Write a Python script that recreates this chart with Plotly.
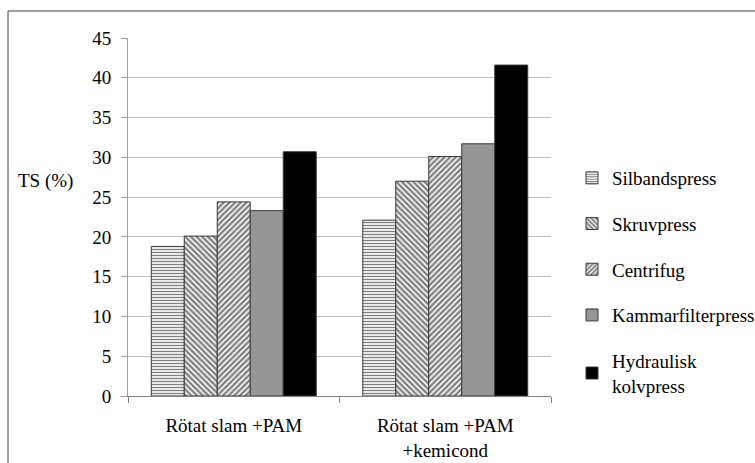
import plotly.graph_objects as go

categories = ["Rötat slam +PAM", "Rötat slam +PAM<br>+kemicond"]
series_names = ["Silbandspress", "Skruvpress", "Centrifug", "Kammarfilterpress", "Hydraulisk<br>kolvpress"]
silbandspress = [18.8, 22.1]
skruvpress = [20.1, 27.0]
centrifug = [24.4, 30.1]
kammarfilterpress = [23.3, 31.7]
hydraulisk = [30.7, 41.6]
y_ticks = [0, 5, 10, 15, 20, 25, 30, 35, 40, 45]

values = [silbandspress, skruvpress, centrifug, kammarfilterpress, hydraulisk]
styles = [
    dict(color="white", pattern=dict(shape="-", fgcolor="#000000", bgcolor="white", size=3, solidity=0.45)),
    dict(color="white", pattern=dict(shape="\\", fgcolor="#000000", bgcolor="white", size=4, solidity=0.6)),
    dict(color="white", pattern=dict(shape="/", fgcolor="#000000", bgcolor="white", size=4, solidity=0.6)),
    dict(color="#969696"),
    dict(color="#000000"),
]

FONT = "Liberation Serif, Times New Roman, DejaVu Serif, serif"
FS = 19
fig = go.Figure()
for i, (name, vals, st) in enumerate(zip(series_names, values, styles)):
    marker = dict(line=dict(color="#3a3a3a", width=1))
    marker["color"] = st["color"]
    if "pattern" in st:
        marker["pattern"] = st["pattern"]
    fig.add_trace(go.Bar(x=categories, y=vals, name=name, marker=marker, legendgroup=f"g{i}"))

W, H = 755, 463
L, R, T, B = 128, 204, 38, 67
pw, ph = W - L - R, H - T - B

fig.update_layout(
    width=W, height=H,
    margin=dict(l=L, r=R, t=T, b=B, autoexpand=False),
    paper_bgcolor="white", plot_bgcolor="white",
    barmode="group", bargap=0.22, bargroupgap=0,
    font=dict(family=FONT, size=FS, color="#000000"),
    showlegend=True,
    legend=dict(xref="container", yref="container", x=572 / W, y=1 - 159 / H,
                xanchor="left", yanchor="top", maxheight=420,
                traceorder="grouped", tracegroupgap=18,
                font=dict(family=FONT, size=FS), itemwidth=30,
                bgcolor="rgba(0,0,0,0)"),
    xaxis=dict(showgrid=False, showline=True, linecolor="#808080", linewidth=1,
               ticks="outside", tickson="boundaries", ticklen=6, tickcolor="#808080",
               ticklabelstandoff=12, automargin=False,
               tickfont=dict(family=FONT, size=FS)),
    yaxis=dict(range=[0, 45], tickvals=y_ticks, showgrid=True, gridcolor="#c0c0c0", gridwidth=1,
               showline=True, linecolor="#a0a0a0", linewidth=1, zeroline=False,
               ticks="outside", ticklen=6, tickcolor="#a0a0a0", ticklabelstandoff=6,
               automargin=False,
               tickfont=dict(family=FONT, size=FS)),
    annotations=[dict(text="TS (%)", xref="paper", yref="paper", x=(16 - L) / pw, y=(396 - 181) / ph,
                      xanchor="left", yanchor="middle", showarrow=False,
                      font=dict(family=FONT, size=FS))],
    shapes=[dict(type="rect", xref="paper", yref="paper",
                 x0=(8 - L) / pw, x1=(770 - L) / pw, y0=(396 - 480) / ph, y1=(396 - 11) / ph,
                 line=dict(color="#404040", width=1), fillcolor="rgba(0,0,0,0)", layer="below")],
)

fig.write_html("out.html")
